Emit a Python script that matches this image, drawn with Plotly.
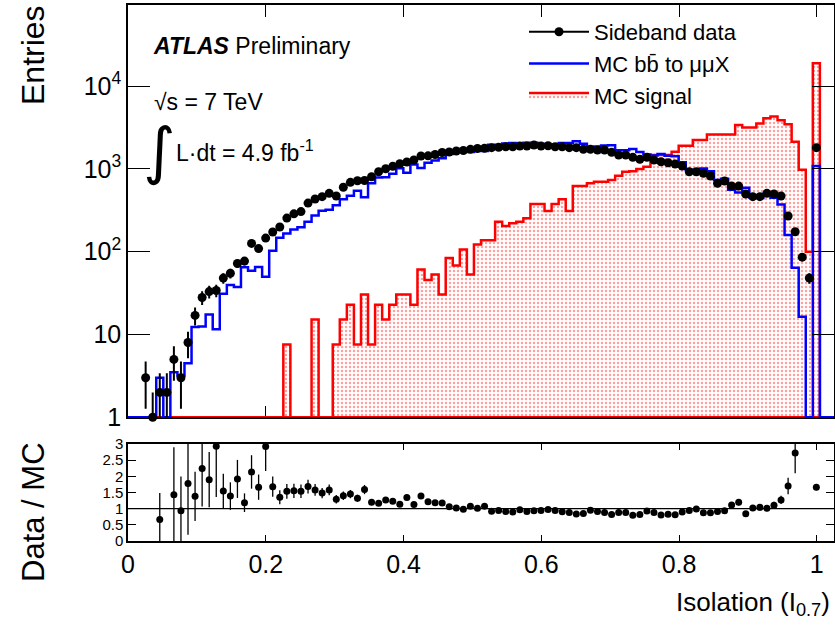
import numpy as np
import plotly.graph_objects as go

# ---------------- data ----------------
n_bins = 100
x_lo, x_hi = 0.0, 1.025

sideband_data = [0, 0, 3, 1, 2, 2, 5, 3, 8, 17,
                 28, 33, 34, 48, 55, 72, 77, 126, 109, 146,
                 173, 199, 255, 287, 305, 387, 433, 462, 507, 471,
                 600, 689, 720, 724, 805, 925, 1005, 1075, 1156, 1211,
                 1280, 1431, 1440, 1493, 1578, 1600, 1645, 1668, 1725, 1763,
                 1775, 1805, 1825, 1855, 1855, 1892, 1892, 1946, 1892, 1905,
                 1855, 1855, 1805, 1805, 1725, 1730, 1692, 1692, 1586, 1472,
                 1472, 1381, 1306, 1381, 1280, 1222, 1188, 1146, 1084, 925,
                 925, 885, 821, 670, 714, 621, 621, 498, 462, 462,
                 507, 498, 471, 270, 174, 86, 48, 1805, 0, 0]

mc_bbbar = [0, 0, 0, 0, 3.0, 0, 3.5, 3.2, 4.5, 12.3,
            12.5, 17.4, 11.6, 31, 39.6, 37.5, 65, 59, 65.5, 50,
            103, 147, 166, 185, 198, 230, 274, 312, 321, 365,
            429, 475, 545, 455, 671, 790, 793, 876, 1019, 901,
            1133, 1028, 1184, 1260, 1345, 1512, 1615, 1698, 1605, 1735,
            1652, 1962, 1937, 2027, 2061, 1953, 2068, 2078, 2004, 1960,
            1966, 2050, 2052, 2164, 2021, 1824, 1861, 1925, 1938, 1676,
            1676, 1742, 1601, 1492, 1453, 1514, 1440, 1418, 1206, 977,
            938, 1009, 940, 734, 762, 559, 518, 593, 453, 444,
            502, 449, 371, 159, 64, 16.4, 0, 1084, 0, 0]

mc_signal = [0, 0, 0, 0, 0, 0, 0, 0, 0, 0,
             0, 0, 0, 0, 0, 0, 0, 0, 0, 0,
             0, 0, 7.6, 0, 0, 0, 15.2, 0, 0, 7.6,
             15.2, 22.8, 7.6, 30.4, 7.6, 22.8, 15.2, 22.8, 30.4, 30.4,
             22.8, 61, 45.6, 53, 30.4, 84, 68, 106, 53, 122,
             138, 138, 230, 204, 220, 230, 253, 377, 377, 310,
             377, 430, 310, 621, 621, 670, 700, 700, 734, 830,
             925, 940, 1000, 1060, 1472, 1472, 1472, 1614, 1905, 1905,
             2230, 2230, 2600, 2600, 2600, 2600, 3387, 3170, 3170, 3530,
             4100, 4310, 3860, 3460, 2130, 975, 100, 18900, 0, 0]

y_tickvals = [1, 10, 100, 1000, 10000]
y_ticktext = ["1", "10", "10<sup>2</sup>", "10<sup>3</sup>", "10<sup>4</sup>"]
x_tickvals = [0, 0.2, 0.4, 0.6, 0.8, 1.0]
x_ticktext = ["0", "0.2", "0.4", "0.6", "0.8", "1"]
r_tickvals = [0, 0.5, 1, 1.5, 2, 2.5, 3]
r_ticktext = ["0", "0.5", "1", "1.5", "2", "2.5", "3"]

# ---------------- derived ----------------
data = np.array(sideband_data, float)
mc = np.array(mc_bbbar, float)
sig = np.array(mc_signal, float)
edges = np.linspace(x_lo, x_hi, n_bins + 1)
centers = 0.5 * (edges[:-1] + edges[1:])
floor = 1.0  # axis minimum: empty bins drawn on the bottom


def step(v):
    y = np.where(v > 0, v, floor)
    return edges, np.append(y, y[-1])


mx, my = step(mc)
sx, sy = step(sig)
sx = np.concatenate([sx, [edges[-1], edges[0]]])
sy = np.concatenate([sy, [floor, floor]])

m = data > 0
d_x = centers[m]
d_y = data[m]
d_err = np.sqrt(d_y)
d_err_dn = np.minimum(d_err, d_y - 0.999)

rm = (data > 0) & (mc > 0)
ratio = data[rm] / mc[rm]
r_err = ratio * np.sqrt(1.0 / data[rm] + 3.0 / mc[rm])
keep = ratio <= 3.0
r_x = centers[rm][keep]
r_y = ratio[keep]
r_e = r_err[keep]
r_up = np.minimum(r_e, 3.0 - r_y)
r_dn = np.minimum(r_e, r_y)

FONT = "Liberation Sans, Arial, Helvetica, sans-serif"

fig = go.Figure()
fig.add_trace(go.Scatter(
    x=sx, y=sy, mode="lines", line=dict(color="#ff0000", width=2.5, shape="hv"),
    fill="toself", fillcolor="rgba(0,0,0,0)",
    fillpattern=dict(shape=".", fgcolor="#ff4040", bgcolor="white", size=4, solidity=0.3),
    name="MC signal", legendrank=3, xaxis="x", yaxis="y"))
fig.add_trace(go.Scatter(
    x=mx, y=my, mode="lines", line=dict(color="#0000ff", width=2.5, shape="hv"),
    name="MC bb\u0304 to \u03bc\u03bcX", legendrank=2,
    xaxis="x", yaxis="y"))
fig.add_trace(go.Scatter(
    x=d_x, y=d_y, mode="markers", marker=dict(color="black", size=9),
    error_y=dict(type="data", array=d_err, arrayminus=d_err_dn, color="black",
                 thickness=2, width=0),
    showlegend=False, cliponaxis=False, xaxis="x", yaxis="y"))
fig.add_trace(go.Scatter(
    x=[None], y=[None], mode="lines+markers", marker=dict(color="black", size=9),
    line=dict(color="black", width=2), name="Sideband data", legendrank=1,
    xaxis="x", yaxis="y"))
fig.add_trace(go.Scatter(
    x=r_x, y=r_y, mode="markers", marker=dict(color="black", size=7),
    error_y=dict(type="data", array=r_up, arrayminus=r_dn, color="black",
                 thickness=1.3, width=0),
    showlegend=False, cliponaxis=False, xaxis="x2", yaxis="y2"))

W, H = 835, 628
L, R, T, B = 128, 1, 5, 87
ph = H - T - B


def py(Y):
    return (H - B - Y) / ph


def px(X):
    return (X - L) / (W - L - R)


main_dom = [py(417.3), 1.0]
ratio_dom = [0.0, py(444)]

axis_common = dict(showgrid=False, zeroline=False, ticks="inside", mirror="allticks",
                   tickcolor="black", linecolor="black", automargin=False)

minor_x = [v for v in np.round(np.arange(0.05, 1.0251, 0.05), 3) if abs(v / 0.2 - round(v / 0.2)) > 1e-6]
minor_y = [f * 10 ** e for e in range(0, 5) for f in range(2, 10) if f * 10 ** e < 10 ** 4.98]
minor_r = [v for v in np.round(np.arange(0.1, 3.0, 0.1), 3) if abs(v / 0.5 - round(v / 0.5)) > 1e-6]

fig.update_layout(
    width=W, height=H, margin=dict(l=L, r=R, t=T, b=B, autoexpand=False),
    paper_bgcolor="white", plot_bgcolor="white",
    font=dict(family=FONT, color="black"),
    showlegend=True,
    legend=dict(x=px(524), y=py(11), xanchor="left", yanchor="top",
                font=dict(size=22, family=FONT), bgcolor="rgba(0,0,0,0)",
                itemwidth=60, traceorder="normal"),
    xaxis=dict(domain=[0, 1], anchor="y", range=[x_lo, x_hi], tickvals=x_tickvals,
               showticklabels=False, ticklen=12, tickwidth=1.2, showline=True, linewidth=1.5,
               layer="below traces", **axis_common),
    yaxis=dict(domain=main_dom, anchor="x", type="log", range=[0, 4.98],
               tickvals=y_tickvals, ticktext=y_ticktext, ticklen=22, tickwidth=1.2,
               showline=True, linewidth=1.5, tickfont=dict(size=25), **axis_common),
    xaxis2=dict(domain=[0, 1], anchor="y2", range=[x_lo, x_hi], tickvals=x_tickvals,
                ticktext=x_ticktext, ticklen=6, tickwidth=1.2, showline=True, linewidth=1.5,
                tickfont=dict(size=25), **axis_common),
    yaxis2=dict(domain=ratio_dom, anchor="x2", range=[0, 3], tickvals=r_tickvals,
                ticktext=r_ticktext, ticklen=8, tickwidth=1.2, showline=True, linewidth=1.5,
                tickfont=dict(size=15), **axis_common),
    xaxis3=dict(overlaying="x", anchor="y", range=[x_lo, x_hi], tickvals=minor_x,
                showticklabels=False, ticklen=6, tickwidth=1.2, showline=False, **axis_common),
    yaxis3=dict(overlaying="y", anchor="x", type="log", range=[0, 4.98], tickvals=minor_y,
                showticklabels=False, ticklen=12, tickwidth=1.2, showline=False, **axis_common),
    xaxis4=dict(overlaying="x2", anchor="y2", range=[x_lo, x_hi], tickvals=minor_x,
                showticklabels=False, ticklen=3, tickwidth=1.2, showline=False, **axis_common),
    yaxis4=dict(overlaying="y2", anchor="x2", range=[0, 3], tickvals=minor_r,
                showticklabels=False, ticklen=4, tickwidth=1.2, showline=False, **axis_common),
)

fig.add_shape(type="line", xref="x2 domain", yref="y2", x0=0, x1=1, y0=1, y1=1,
              line=dict(color="black", width=1.2))

ann = [
    dict(text="Entries", x=px(33), y=py(55), textangle=-90, font=dict(size=32)),
    dict(text="Data / MC", x=px(33), y=py(512), textangle=-90, font=dict(size=31)),
    dict(text="Isolation (I<sub>0.7</sub>)", x=px(832), y=py(603), xanchor="right",
         font=dict(size=26)),
    dict(text="<b><i>ATLAS</i></b> Preliminary", x=px(151), y=py(46), xanchor="left",
         font=dict(size=23)),
    dict(text="\u221as = 7 TeV", x=px(152), y=py(102), xanchor="left", font=dict(size=23)),
    dict(text="\u222b", x=px(159), y=py(150), font=dict(size=62, family="DejaVu Sans")),
    dict(text="L\u00b7dt = 4.9 fb<sup>-1</sup>", x=px(174), y=py(151), xanchor="left",
         font=dict(size=23)),
]
for a in ann:
    a.setdefault("xanchor", "center")
    fig.add_annotation(xref="paper", yref="paper", showarrow=False, yanchor="middle", **a)

fig.write_html("out.html",
               config={"displayModeBar": False},
               post_script="document.body.style.margin='0px';"
                           "document.body.style.overflow='hidden';")
